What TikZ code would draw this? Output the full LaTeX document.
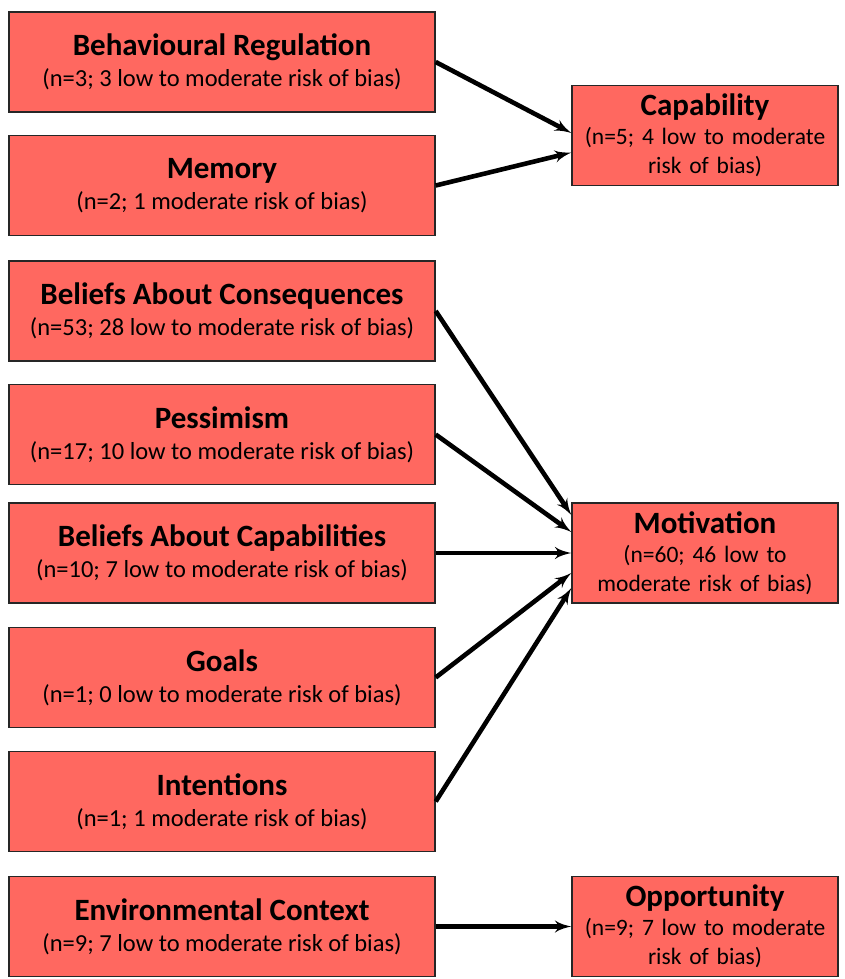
\documentclass[tikz,border=0pt]{standalone}
\usepackage{fontspec}
\setmainfont{Carlito}
\usepackage{tikz}
\definecolor{boxred}{RGB}{255,104,96}
\usetikzlibrary{arrows, shapes}
\tikzstyle{line} = [draw, line width=4.6pt, -latex']

\begin{document}
\begin{tikzpicture}[x=1pt, y=-1pt, >=latex,
		lbox/.style={draw=black!85, line width=1.4pt, fill=boxred, minimum width=426pt, minimum height=100pt, inner sep=0pt, align=center, font=\fontsize{24.5}{31}\selectfont},
		rbox/.style={lbox, minimum width=266pt, text width=256pt, font=\fontsize{23.5}{29}\selectfont}]
	\useasboundingbox (0,0) rectangle (845,979);
	% linke Spalte
	\node[lbox] (behav) at (222,62) {{\fontsize{31}{40}\selectfont\bfseries Behavioural Regulation}\\(n=3; 3 low to moderate risk of bias)};
	\node[lbox] (memory) at (222,185.5) {{\fontsize{31}{40}\selectfont\bfseries Memory}\\(n=2; 1 moderate risk of bias)};
	\node[lbox] (bacons) at (222,311) {{\fontsize{31}{40}\selectfont\bfseries Beliefs About Consequences}\\(n=53; 28 low to moderate risk of bias)};
	\node[lbox] (pess) at (222,434.5) {{\fontsize{31}{40}\selectfont\bfseries Pessimism}\\(n=17; 10 low to moderate risk of bias)};
	\node[lbox] (bacap) at (222,553) {{\fontsize{31}{40}\selectfont\bfseries Beliefs About Capabilities}\\(n=10; 7 low to moderate risk of bias)};
	\node[lbox] (goals) at (222,677.5) {{\fontsize{31}{40}\selectfont\bfseries Goals}\\(n=1; 0 low to moderate risk of bias)};
	\node[lbox] (intent) at (222,801.5) {{\fontsize{31}{40}\selectfont\bfseries Intentions}\\(n=1; 1 moderate risk of bias)};
	\node[lbox] (envir) at (222,926.5) {{\fontsize{31}{40}\selectfont\bfseries Environmental Context}\\(n=9; 7 low to moderate risk of bias)};
	% rechte Spalte
	\node[rbox] (capab) at (705,135.5) {{\fontsize{31}{34}\selectfont\bfseries Capability}\\(n=5; 4 low to moderate\\risk of bias)};
	\node[rbox] (motiv) at (705,553) {{\fontsize{31}{34}\selectfont\bfseries Motivation}\\(n=60; 46 low to\\moderate risk of bias)};
	\node[rbox] (oppor) at (705,926.5) {{\fontsize{31}{34}\selectfont\bfseries Opportunity}\\(n=9; 7 low to moderate\\risk of bias)};
	% Pfeile
	\path[line] (behav.east) -- ([yshift=2.5]capab.west);
	\path[line] (memory.east) -- ([yshift=-17]capab.west);
	\path[line] (bacons.east) -- ([yshift=38]motiv.west);
	\path[line] (pess.east) -- ([yshift=21]motiv.west);
	\path[line] (bacap.east) -- (motiv.west);
	\path[line] (goals.east) -- ([yshift=-20]motiv.west);
	\path[line] (intent.east) -- ([yshift=-35]motiv.west);
	\path[line] (envir.east) -- (oppor.west);
\end{tikzpicture}
\end{document}
